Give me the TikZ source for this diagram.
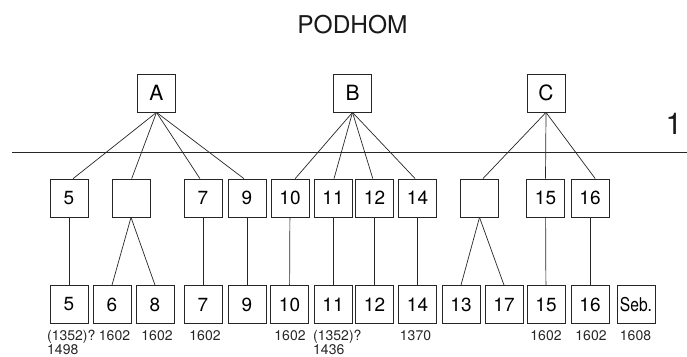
\documentclass[tikz,border=0pt]{standalone}
\usepackage{fontspec}
\setmainfont{TeX Gyre Heros}
\begin{document}
\begin{tikzpicture}[x=1pt,y=-1pt,
  box/.style={draw=black!85, line width=0.8pt, minimum width=38pt, minimum height=38pt, inner sep=0pt, font=\fontsize{19}{19}\selectfont},
  topbox/.style={box, font=\fontsize{21}{21}\selectfont},
  link/.style={draw=black!85, line width=0.7pt},
  yr/.style={inner sep=0pt, anchor=base, font=\fontsize{14}{14}\selectfont, text=black!85}]
\useasboundingbox (0,0) rectangle (687,356);
% title
\node[font=\fontsize{24.5}{24.5}\selectfont, text=black!90] (title) at (352.5,25) {PODHOM};
% level line
\coordinate (l0) at (12,152);
\coordinate (l1) at (687,152);
\draw[link] (l0) -- (l1);
\node[font=\fontsize{30}{30}\selectfont, text=black!90] (one) at (674,124) {1};
% top row
\node[topbox] (A) at (156.5,93) {A};
\node[topbox] (B) at (352.5,93) {B};
\node[topbox] (C) at (546,93) {C};
% middle row
\node[box] (m5)  at (69,198) {5};
\node[box] (mA)  at (131,198) {};
\node[box] (m7)  at (203,198) {7};
\node[box] (m9)  at (247,198) {9};
\node[box] (m10) at (290,198) {10};
\node[box] (m11) at (333,198) {11};
\node[box] (m12) at (374.5,198) {12};
\node[box] (m14) at (417.5,198) {14};
\node[box] (mC)  at (479.5,198) {};
\node[box] (m15) at (545.5,198) {15};
\node[box] (m16) at (590,198) {16};
% bottom row
\node[box] (b5)  at (69,304.5) {5};
\node[box] (b6)  at (112,304.5) {6};
\node[box] (b8)  at (155,304.5) {8};
\node[box] (b7)  at (203,304.5) {7};
\node[box] (b9)  at (247,304.5) {9};
\node[box] (b10) at (289.5,304.5) {10};
\node[box] (b11) at (333,304.5) {11};
\node[box] (b12) at (374.5,304.5) {12};
\node[box] (b14) at (417.5,304.5) {14};
\node[box] (b13) at (461,304.5) {13};
\node[box] (b17) at (504,304.5) {17};
\node[box] (b15) at (546,304.5) {15};
\node[box] (b16) at (590,304.5) {16};
\node[box] (bS)  at (636,304.5) {\scalebox{0.82}[1]{Seb.}};
% upper connectors
\draw[link] (A.south) -- (m5.78);
\draw[link] (A.south) -- (mA.88);
\draw[link] (A.south) -- (m7.99);
\draw[link] (A.south) -- (m9.99);
\draw[link] (B.south) -- (m10.75);
\draw[link] (B.south) -- (m11.87);
\draw[link] (B.south) -- (m12.95);
\draw[link] (B.south) -- (m14.97);
\draw[link] (C.south) -- (mC.80);
\draw[link] (C.south) -- (m15.north);
\draw[link] (C.south) -- (m16.75);
% lower connectors
\draw[link] (m5) -- (b5);
\draw[link] (mA.south) -- (b6.north);
\draw[link] (mA.south) -- (b8.north);
\draw[link] (m7) -- (b7);
\draw[link] (m9) -- (b9);
\draw[link] (m10) -- (b10);
\draw[link] (m11) -- (b11);
\draw[link] (m12) -- (b12);
\draw[link] (m14) -- (b14);
\draw[link] (mC.south) -- (b13.north);
\draw[link] (mC.south) -- (b17.north);
\draw[link] (m15) -- (b15);
\draw[link] (m16) -- (b16);
% years
\node[yr, anchor=base west] (y5a) at (47,340) {(1352)?};
\node[yr, anchor=base west] (y5b) at (47,354) {1498};
\node[yr] (y6)  at (114.5,340) {1602};
\node[yr] (y8)  at (157,340) {1602};
\node[yr] (y7)  at (205,340) {1602};
\node[yr] (y10) at (290,340) {1602};
\node[yr, anchor=base west] (y11a) at (313,340) {(1352)?};
\node[yr, anchor=base west] (y11b) at (313,354) {1436};
\node[yr] (y14) at (415.5,340) {1370};
\node[yr] (y15) at (546,340) {1602};
\node[yr] (y16) at (591,340) {1602};
\node[yr] (yS)  at (635.5,340) {1608};
\end{tikzpicture}
\end{document}
